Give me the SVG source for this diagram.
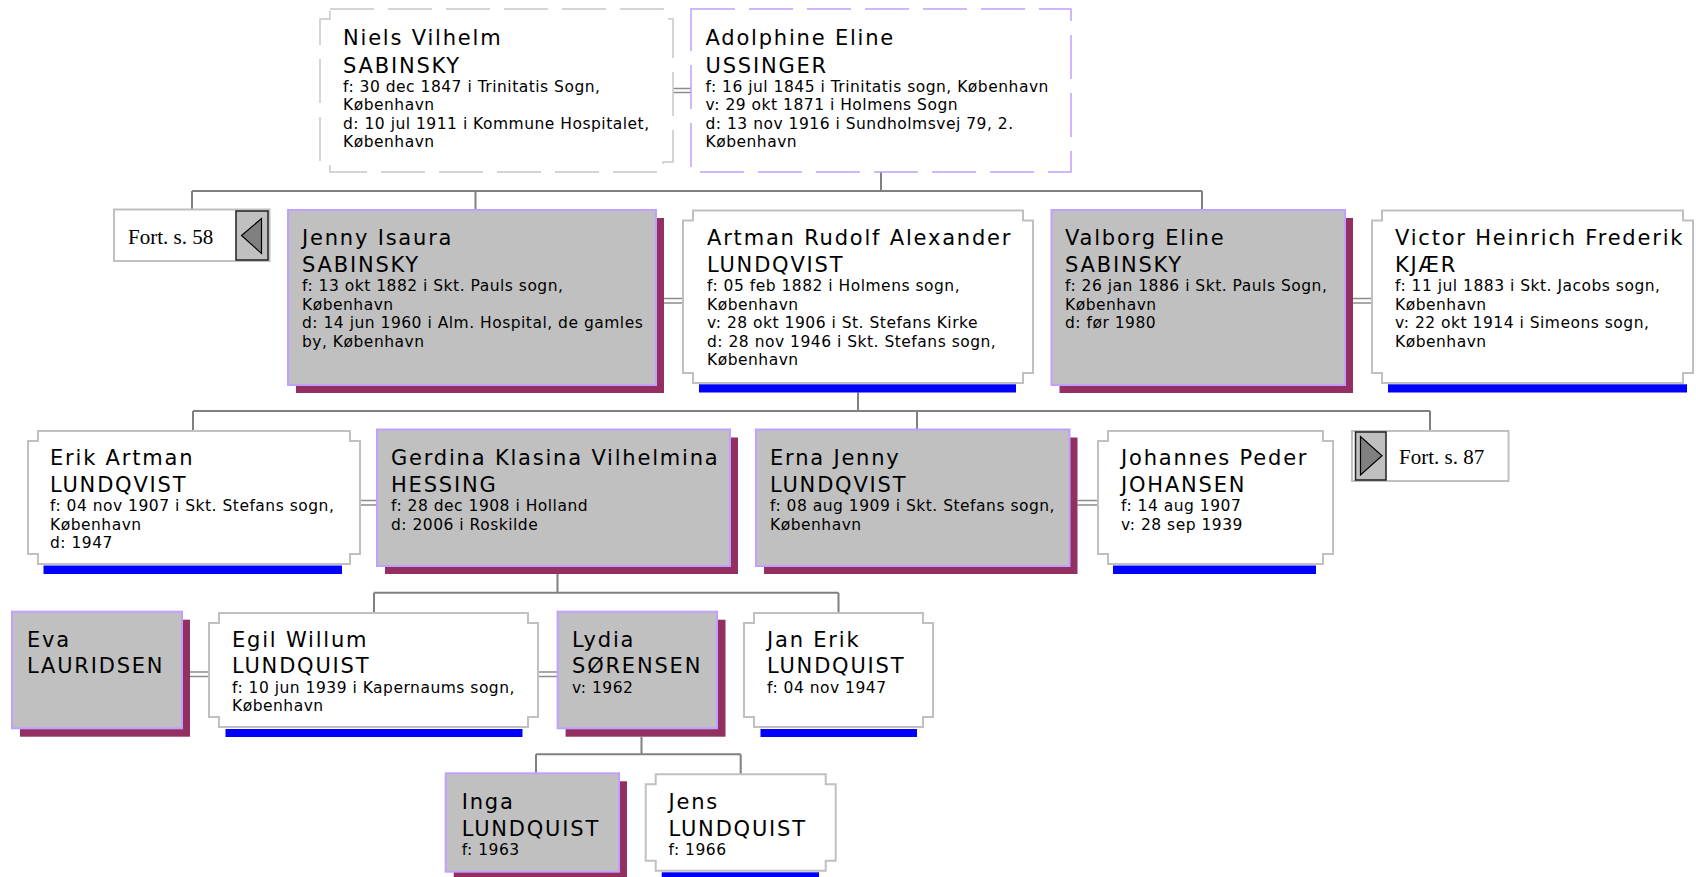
<svg xmlns="http://www.w3.org/2000/svg" width="1696" height="877" viewBox="0 0 1696 877">
<style>
.bg{fill:#fff}
.n{font-family:"DejaVu Sans",Verdana,sans-serif;font-size:21px;letter-spacing:1.8px;fill:#000}
.d{font-family:"DejaVu Sans",Verdana,sans-serif;font-size:15.5px;letter-spacing:0.5px;fill:#000}
.fo{font-family:"Liberation Serif","Times New Roman",serif;font-size:21px;fill:#000}
.m{fill:#fff;stroke:#c0c0c0;stroke-width:2}
.f{fill:#c0c0c0;stroke:#c0a0ff;stroke-width:2}
.sh{fill:#933061}
.bar{fill:#0000ff}
.md{fill:#fff;stroke:#c8c8c8;stroke-width:1.5;stroke-dasharray:44 14}
.fd{fill:#fff;stroke:#c0a0ff;stroke-width:1.5;stroke-dasharray:44 14}
.fb{fill:#fff;stroke:#c0c0c0;stroke-width:2}
.ab{fill:#c0c0c0;stroke:#202020;stroke-width:1.5}
.tri{fill:#808080;stroke:#000;stroke-width:1.2}
.ln{fill:none;stroke:#808080;stroke-width:2}
.mr{fill:none;stroke:#8c8c8c;stroke-width:1.5}
</style>
<rect class="bg" x="0" y="0" width="1696" height="877"/>

<g id="connectors">
  <path class="mr" d="M673 88.5H691M673 92.5H691"/>
  <path class="mr" d="M664 298.5H683M664 303H683"/>
  <path class="mr" d="M1353 298.5H1372M1353 303H1372"/>
  <path class="mr" d="M360 500.5H377M360 505H377"/>
  <path class="mr" d="M1077.5 500.5H1098M1077.5 505H1098"/>
  <path class="mr" d="M190 672H209M190 676.5H209"/>
  <path class="mr" d="M538 672H557.6M538 676.5H557.6"/>
  <path class="ln" d="M881 172V191M192 191H1202M192 191V209.5M475.5 191V210M1202 191V210"/>
  <path class="ln" d="M858 392.5V411M193 411H1430M193 411V431M917 411V429.5M1430 411V431"/>
  <path class="ln" d="M557.5 574V592.7M374 592.7H838.5M374 592.7V613M838.5 592.7V613"/>
  <path class="ln" d="M641.5 737V754.3M536 754.3H740.7M536 754.3V773.3M740.7 754.3V774.3"/>
</g>

<g id="niels">
  <path class="md" d="M330 9H663V19H673V162H663V172H330V162H320V19H330Z"/>
  <text class="n" x="343" y="44.5">Niels Vilhelm</text>
  <text class="n" x="343" y="72.5">SABINSKY</text>
  <text class="d" x="343" y="91.5">f: 30 dec 1847 i Trinitatis Sogn,</text>
  <text class="d" x="343" y="110">København</text>
  <text class="d" x="343" y="128.5">d: 10 jul 1911 i Kommune Hospitalet,</text>
  <text class="d" x="343" y="147">København</text>
</g>

<g id="adolphine">
  <rect class="fd" x="691" y="9" width="380" height="163"/>
  <text class="n" x="705.5" y="44.5">Adolphine Eline</text>
  <text class="n" x="705.5" y="72.5">USSINGER</text>
  <text class="d" x="705.5" y="91.5">f: 16 jul 1845 i Trinitatis sogn, København</text>
  <text class="d" x="705.5" y="110">v: 29 okt 1871 i Holmens Sogn</text>
  <text class="d" x="705.5" y="128.5">d: 13 nov 1916 i Sundholmsvej 79, 2.</text>
  <text class="d" x="705.5" y="147">København</text>
</g>

<g id="fort58">
  <rect class="fb" x="114" y="209.5" width="155.5" height="51.5"/>
  <rect class="ab" x="236" y="211" width="32" height="49"/>
  <polygon class="tri" points="241.5,235.5 261.5,218.5 261.5,253.5"/>
  <text class="fo" x="128" y="243.5">Fort. s. 58</text>
</g>

<g id="jenny">
  <rect class="sh" x="296" y="218" width="368" height="175"/>
  <rect class="f" x="288" y="210" width="368" height="175"/>
  <text class="n" x="302" y="245">Jenny Isaura</text>
  <text class="n" x="302" y="272">SABINSKY</text>
  <text class="d" x="302" y="291">f: 13 okt 1882 i Skt. Pauls sogn,</text>
  <text class="d" x="302" y="309.5">København</text>
  <text class="d" x="302" y="328">d: 14 jun 1960 i Alm. Hospital, de gamles</text>
  <text class="d" x="302" y="346.5">by, København</text>
</g>

<g id="artman">
  <path class="m" d="M693 210.5H1023V220.5H1033V373H1023V383H693V373H683V220.5H693Z"/>
  <rect class="bar" x="699" y="384.3" width="317" height="8.2"/>
  <text class="n" x="707" y="245">Artman Rudolf Alexander</text>
  <text class="n" x="707" y="272">LUNDQVIST</text>
  <text class="d" x="707" y="291">f: 05 feb 1882 i Holmens sogn,</text>
  <text class="d" x="707" y="309.5">København</text>
  <text class="d" x="707" y="328">v: 28 okt 1906 i St. Stefans Kirke</text>
  <text class="d" x="707" y="346.5">d: 28 nov 1946 i Skt. Stefans sogn,</text>
  <text class="d" x="707" y="365">København</text>
</g>

<g id="valborg">
  <rect class="sh" x="1059.5" y="218" width="293.5" height="175"/>
  <rect class="f" x="1051.5" y="210" width="293.5" height="175"/>
  <text class="n" x="1065" y="245">Valborg Eline</text>
  <text class="n" x="1065" y="272">SABINSKY</text>
  <text class="d" x="1065" y="291">f: 26 jan 1886 i Skt. Pauls Sogn,</text>
  <text class="d" x="1065" y="309.5">København</text>
  <text class="d" x="1065" y="328">d: før 1980</text>
</g>

<g id="victor">
  <path class="m" d="M1382 210.5H1683V220.5H1693V373H1683V383H1382V373H1372V220.5H1382Z"/>
  <rect class="bar" x="1388" y="384.3" width="299" height="8.2"/>
  <text class="n" x="1395" y="245">Victor Heinrich Frederik</text>
  <text class="n" x="1395" y="272">KJÆR</text>
  <text class="d" x="1395" y="291">f: 11 jul 1883 i Skt. Jacobs sogn,</text>
  <text class="d" x="1395" y="309.5">København</text>
  <text class="d" x="1395" y="328">v: 22 okt 1914 i Simeons sogn,</text>
  <text class="d" x="1395" y="346.5">København</text>
</g>

<g id="erik">
  <path class="m" d="M38 431H350V441H360V554H350V564H38V554H28V441H38Z"/>
  <rect class="bar" x="43.5" y="565.5" width="298.5" height="8.5"/>
  <text class="n" x="50" y="465">Erik Artman</text>
  <text class="n" x="50" y="492">LUNDQVIST</text>
  <text class="d" x="50" y="511">f: 04 nov 1907 i Skt. Stefans sogn,</text>
  <text class="d" x="50" y="529.5">København</text>
  <text class="d" x="50" y="548">d: 1947</text>
</g>

<g id="gerdina">
  <rect class="sh" x="385" y="437.5" width="353" height="136.5"/>
  <rect class="f" x="377" y="429.5" width="353" height="136.5"/>
  <text class="n" x="391" y="465">Gerdina Klasina Vilhelmina</text>
  <text class="n" x="391" y="492">HESSING</text>
  <text class="d" x="391" y="511">f: 28 dec 1908 i Holland</text>
  <text class="d" x="391" y="529.5">d: 2006 i Roskilde</text>
</g>

<g id="erna">
  <rect class="sh" x="764" y="437.5" width="313.5" height="136.5"/>
  <rect class="f" x="756" y="429.5" width="313.5" height="136.5"/>
  <text class="n" x="770" y="465">Erna Jenny</text>
  <text class="n" x="770" y="492">LUNDQVIST</text>
  <text class="d" x="770" y="511">f: 08 aug 1909 i Skt. Stefans sogn,</text>
  <text class="d" x="770" y="529.5">København</text>
</g>

<g id="johannes">
  <path class="m" d="M1108 431H1323V441H1333V554H1323V564H1108V554H1098V441H1108Z"/>
  <rect class="bar" x="1113" y="565.5" width="203" height="8.5"/>
  <text class="n" x="1121" y="465">Johannes Peder</text>
  <text class="n" x="1121" y="492">JOHANSEN</text>
  <text class="d" x="1121" y="511">f: 14 aug 1907</text>
  <text class="d" x="1121" y="529.5">v: 28 sep 1939</text>
</g>

<g id="fort87">
  <rect class="fb" x="1352" y="431" width="156.5" height="50"/>
  <rect class="ab" x="1355.5" y="432" width="30.5" height="48"/>
  <polygon class="tri" points="1360.5,436.5 1360.5,475 1382,455.7"/>
  <text class="fo" x="1399" y="463.5">Fort. s. 87</text>
</g>

<g id="eva">
  <rect class="sh" x="20" y="619.7" width="170" height="117"/>
  <rect class="f" x="12" y="611.7" width="170" height="116.6"/>
  <text class="n" x="27" y="646.7">Eva</text>
  <text class="n" x="27" y="672.7">LAURIDSEN</text>
</g>

<g id="egil">
  <path class="m" d="M219 613H528V623H538V717H528V727H219V717H209V623H219Z"/>
  <rect class="bar" x="225.5" y="729" width="297" height="8"/>
  <text class="n" x="232" y="646.7">Egil Willum</text>
  <text class="n" x="232" y="672.7">LUNDQUIST</text>
  <text class="d" x="232" y="692.7">f: 10 jun 1939 i Kapernaums sogn,</text>
  <text class="d" x="232" y="711">København</text>
</g>

<g id="lydia">
  <rect class="sh" x="565.6" y="619.7" width="159.9" height="117"/>
  <rect class="f" x="557.6" y="611.7" width="159.4" height="116.6"/>
  <text class="n" x="572" y="646.7">Lydia</text>
  <text class="n" x="572" y="672.7">SØRENSEN</text>
  <text class="d" x="572" y="692.7">v: 1962</text>
</g>

<g id="janerik">
  <path class="m" d="M754 613H923V623H933V717H923V727H754V717H744V623H754Z"/>
  <rect class="bar" x="760.5" y="729" width="156.5" height="8"/>
  <text class="n" x="767" y="646.7">Jan Erik</text>
  <text class="n" x="767" y="672.7">LUNDQUIST</text>
  <text class="d" x="767" y="692.7">f: 04 nov 1947</text>
</g>

<g id="inga">
  <rect class="sh" x="453.7" y="781.3" width="173.3" height="100"/>
  <rect class="f" x="445.7" y="773.3" width="173.3" height="98.4"/>
  <text class="n" x="461.7" y="809">Inga</text>
  <text class="n" x="461.7" y="836">LUNDQUIST</text>
  <text class="d" x="461.7" y="854.5">f: 1963</text>
</g>

<g id="jens">
  <path class="m" d="M655.7 774.3H825.7V784.3H835.7V860.7H825.7V870.7H655.7V860.7H645.7V784.3H655.7Z"/>
  <rect class="bar" x="661.7" y="872.3" width="157.3" height="8"/>
  <text class="n" x="668.5" y="809">Jens</text>
  <text class="n" x="668.5" y="836">LUNDQUIST</text>
  <text class="d" x="668.5" y="854.5">f: 1966</text>
</g>
</svg>
